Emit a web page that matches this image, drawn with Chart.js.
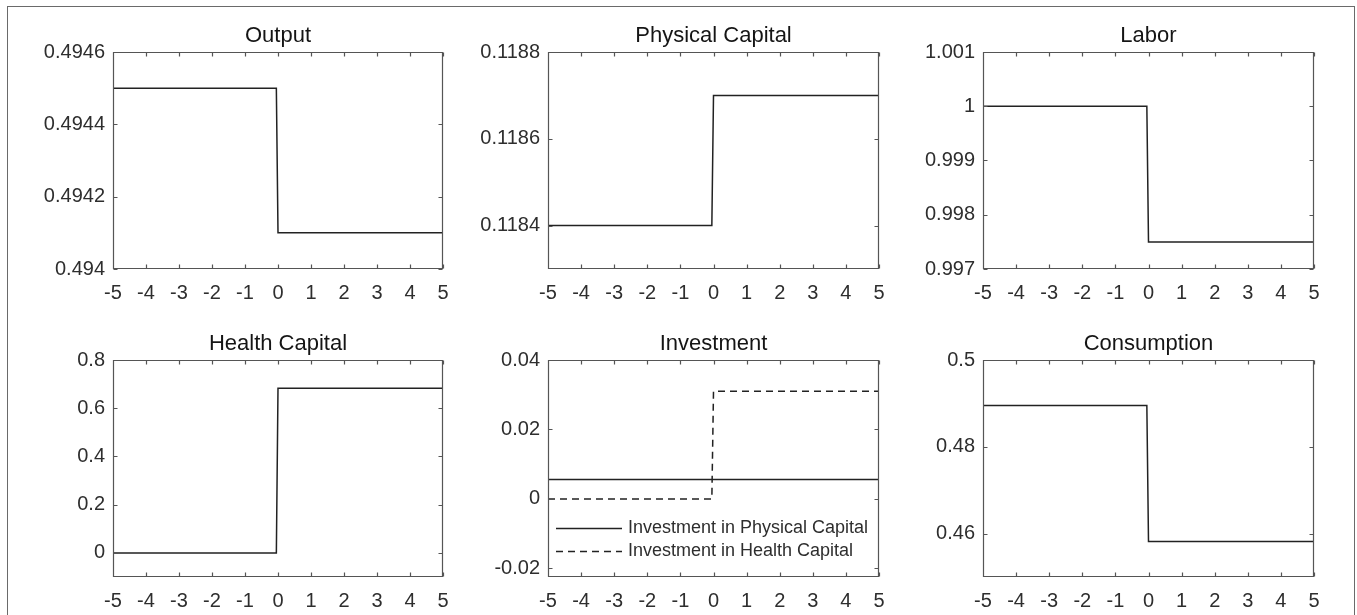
<!DOCTYPE html>
<html>
<head>
<meta charset="utf-8">
<script src="https://cdn.jsdelivr.net/npm/chart.js@4.4.1/dist/chart.umd.min.js"></script>
<style>
  html, body { margin: 0; padding: 0; background: #fff; }
  #sheet { position: relative; width: 1357px; height: 615px; overflow: hidden; background: #fff; }
  #edge { position: absolute; left: 7px; top: 6px; width: 1348px; height: 660px;
          border: 1.5px solid #6a6a6a; border-bottom: none; box-sizing: border-box; }
  #sheet canvas { position: absolute; }
</style>
</head>
<body>
<div id="sheet"><div id="edge"></div></div>
<script>
// Time axis of the steady-state comparison (shock at t = 0)
const periods = [-5, -0.05, 0, 5];
const xTickValues = [-5, -4, -3, -2, -1, 0, 1, 2, 3, 4, 5];

// Series values at each period
const output          = [0.4945, 0.4945, 0.4941, 0.4941];
const physicalCapital = [0.1184, 0.1184, 0.1187, 0.1187];
const labor           = [1.0, 1.0, 0.9975, 0.9975];
const healthCapital   = [0, 0, 0.683, 0.683];
const investPhysical  = [0.0056, 0.0056, 0.0056, 0.0056];
const investHealth    = [0, 0, 0.031, 0.031];
const consumption     = [0.4895, 0.4895, 0.4582, 0.4582];

// Y tick labels for each panel
const outputTicks   = [0.494, 0.4942, 0.4944, 0.4946];
const physicalTicks = [0.1184, 0.1186, 0.1188];
const laborTicks    = [0.997, 0.998, 0.999, 1, 1.001];
const healthTicks   = [0, 0.2, 0.4, 0.6, 0.8];
const investTicks   = [-0.02, 0, 0.02, 0.04];
const consumpTicks  = [0.46, 0.48, 0.5];

const FONT = '"Liberation Sans", Arial, sans-serif';
const INK = '#222222';
const TICK_INK = '#2e2e2e';
const FRAME = '#555555';

const Y_AXIS_W = 110, X_AXIS_H = 40, TITLE_H = 45, RIGHT_PAD = 25;

const panels = [
  { title: 'Output', rect: [113, 52, 443, 269], yMin: 0.494, yMax: 0.4946, yTicks: outputTicks,
    series: [{ label: 'Output', values: output }] },
  { title: 'Physical Capital', rect: [548, 52, 879, 269], yMin: 0.1183, yMax: 0.1188, yTicks: physicalTicks,
    series: [{ label: 'Physical Capital', values: physicalCapital }] },
  { title: 'Labor', rect: [983, 52, 1314, 269], yMin: 0.997, yMax: 1.001, yTicks: laborTicks,
    series: [{ label: 'Labor', values: labor }] },
  { title: 'Health Capital', rect: [113, 360, 443, 577], yMin: -0.1, yMax: 0.8, yTicks: healthTicks,
    series: [{ label: 'Health Capital', values: healthCapital }] },
  { title: 'Investment', rect: [548, 360, 879, 577], yMin: -0.0225, yMax: 0.04, yTicks: investTicks,
    legend: true,
    series: [
      { label: 'Investment in Physical Capital', values: investPhysical },
      { label: 'Investment in Health Capital', values: investHealth, dash: [7, 5] }
    ] },
  { title: 'Consumption', rect: [983, 360, 1314, 577], yMin: 0.45, yMax: 0.5, yTicks: consumpTicks,
    series: [{ label: 'Consumption', values: consumption }] }
];

// Box around the plot area with short inward ticks on all four sides
const boxTicks = {
  id: 'boxTicks',
  afterDraw(chart) {
    const { ctx, chartArea: a, scales: { x, y } } = chart;
    const L = Math.round(a.left) + 0.5, R = Math.round(a.right) - 0.5;
    const T = Math.round(a.top) + 0.5, B = Math.round(a.bottom) - 0.5;
    const len = 4;
    ctx.save();
    ctx.strokeStyle = FRAME;
    ctx.lineWidth = 1.2;
    ctx.setLineDash([]);
    ctx.beginPath();
    ctx.rect(L, T, R - L, B - T);
    x.ticks.forEach(t => {
      const px = Math.round(x.getPixelForValue(t.value)) + 0.5;
      ctx.moveTo(px, B); ctx.lineTo(px, B - len);
      ctx.moveTo(px, T); ctx.lineTo(px, T + len);
    });
    y.ticks.forEach(t => {
      const py = Math.round(y.getPixelForValue(t.value)) + 0.5;
      ctx.moveTo(L, py); ctx.lineTo(L + len, py);
      ctx.moveTo(R, py); ctx.lineTo(R - len, py);
    });
    ctx.stroke();
    ctx.restore();
  }
};

// Line-sample legend placed inside the lower-left of the plot area
const innerKey = {
  id: 'innerKey',
  afterDraw(chart, args, opts) {
    if (!opts || !opts.show) return;
    const { ctx, chartArea: a } = chart;
    ctx.save();
    ctx.font = '18px ' + FONT;
    ctx.textAlign = 'left';
    ctx.textBaseline = 'middle';
    chart.data.datasets.forEach((ds, i) => {
      const yy = Math.round(a.bottom - 49.5 + i * 23) + 0.5;
      ctx.strokeStyle = ds.borderColor;
      ctx.lineWidth = ds.borderWidth;
      ctx.setLineDash(ds.borderDash || []);
      ctx.beginPath();
      ctx.moveTo(a.left + 8, yy);
      ctx.lineTo(a.left + 74, yy);
      ctx.stroke();
      ctx.setLineDash([]);
      ctx.fillStyle = TICK_INK;
      ctx.fillText(ds.label, a.left + 80, yy);
    });
    ctx.restore();
  }
};

const fmt = v => String(parseFloat(Number(v).toPrecision(6)));

const sheet = document.getElementById('sheet');
panels.forEach(p => {
  const [pl, pt, pr, pb] = p.rect;
  const cv = document.createElement('canvas');
  const left = pl - Y_AXIS_W, top = pt - TITLE_H;
  cv.width = (pr - pl) + Y_AXIS_W + RIGHT_PAD;
  cv.height = (pb - pt) + TITLE_H + X_AXIS_H;
  cv.style.left = left + 'px';
  cv.style.top = top + 'px';
  sheet.appendChild(cv);

  new Chart(cv, {
    type: 'line',
    data: {
      datasets: p.series.map(s => ({
        label: s.label,
        data: periods.map((t, i) => ({ x: t, y: s.values[i] })),
        borderColor: INK,
        borderWidth: 1.5,
        borderDash: s.dash || [],
        pointRadius: 0,
        tension: 0,
        fill: false
      }))
    },
    options: {
      responsive: false,
      animation: false,
      devicePixelRatio: 1,
      layout: { padding: { left: 0, top: 0, right: RIGHT_PAD, bottom: 0 } },
      plugins: {
        legend: { display: false },
        tooltip: { enabled: false },
        title: {
          display: true, text: p.title, fullSize: false, color: '#151515',
          font: { family: FONT, size: 22, weight: 'normal', lineHeight: 1 },
          padding: { top: 18, bottom: 5 }
        },
        innerKey: { show: !!p.legend }
      },
      scales: {
        x: {
          type: 'linear', min: -5, max: 5,
          grid: { display: false, drawTicks: false },
          border: { display: false },
          ticks: { padding: 12, color: TICK_INK, font: { family: FONT, size: 20 },
                   maxRotation: 0, autoSkip: false, callback: v => fmt(v) },
          afterBuildTicks: s => { s.ticks = xTickValues.map(v => ({ value: v })); },
          afterFit: s => { s.height = X_AXIS_H; }
        },
        y: {
          type: 'linear', min: p.yMin, max: p.yMax,
          grid: { display: false, drawTicks: false },
          border: { display: false },
          ticks: { padding: 8, color: TICK_INK, font: { family: FONT, size: 20 },
                   autoSkip: false, callback: v => fmt(v) },
          afterBuildTicks: s => { s.ticks = p.yTicks.map(v => ({ value: v })); },
          afterFit: s => { s.width = Y_AXIS_W; }
        }
      }
    },
    plugins: [boxTicks, innerKey]
  });
});
</script>
</body>
</html>
